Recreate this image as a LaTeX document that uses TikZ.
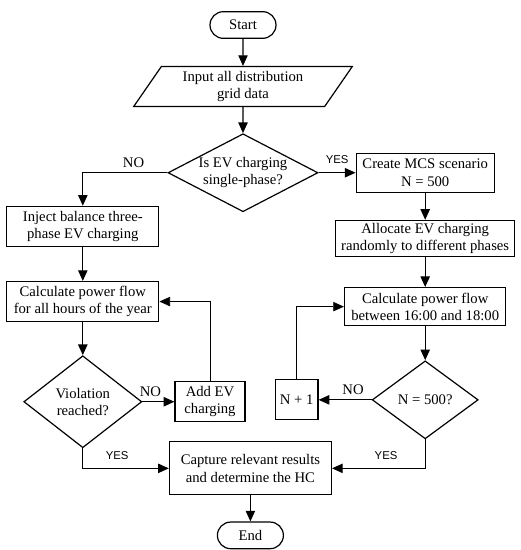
\documentclass[tikz,border=0pt]{standalone}
\usepackage{fontspec}
\setmainfont{Liberation Serif}
\newfontfamily\labelsans{Liberation Sans}
\usepackage{tikz}
\usetikzlibrary{arrows.meta,positioning,shapes.geometric}

\begin{document}
\begin{tikzpicture}[
        font=\fontsize{11}{13}\selectfont,
        line width=0.9pt,
        box/.style={rectangle,draw,align=center,inner xsep=2pt,inner ysep=1pt,
                    minimum height=30pt},
        term/.style={rectangle,draw,rounded corners=10pt,minimum width=49.5pt,
                     minimum height=20pt},
        io/.style={trapezium,trapezium left angle=61,trapezium right angle=119,
                   trapezium stretches=true,draw,align=center,
                   minimum width=164pt,minimum height=30pt},
        decide/.style={diamond,draw,align=center,inner sep=0pt},
        arr/.style={-{Triangle[length=8pt,width=7pt]}},
        back/.style={arr,line width=0.6pt},
        yes/.style={font=\labelsans\fontsize{8.5}{10}\selectfont,above=3pt},
        no/.style={above}
      ]
        \useasboundingbox (0,0) rectangle (390.75pt,-412.5pt);
        \node[term] (start) at (182.25pt,-18.75pt) {Start};
        \node[io,below=20.25pt of start] (input) {Input all distribution\\grid data};
        \node[decide,below=19.5pt of input,aspect=2,minimum width=112.5pt,
              minimum height=58.5pt] (evq) {Is EV charging\\single-phase?};
        \node[box,below left=24.75pt and 6pt of evq.west,minimum width=114pt] (inject)
          {Inject balance three-\\phase EV charging};
        \node[box,below=25.5pt of inject,minimum width=114pt] (calcall)
          {Calculate power flow\\for all hours of the year};
        \node[decide,below=24.75pt of calcall,aspect=1.3,minimum width=88.5pt,
              minimum height=69pt] (viol) {Violation\\reached?};
        \node[box,right=24pt of viol,minimum width=52.5pt] (addev) {Add EV\\charging};
        \node[box,right=64.5pt of viol.south,yshift=-15pt,minimum width=121.5pt,
              minimum height=39.75pt] (capture)
          {Capture relevant results\\and determine the HC};
        \node[term,below=19.5pt of capture] (end) {End};
        \node[box,right=27.75pt of evq,minimum width=103.5pt,minimum height=29.25pt] (mcs)
          {Create MCS scenario\\N = 500};
        \node[box,below=20.25pt of mcs,minimum width=134pt,minimum height=27pt] (alloc)
          {Allocate EV charging\\randomly to different phases};
        \node[box,below=22.5pt of alloc,minimum width=121pt,minimum height=28.5pt] (calcpeak)
          {Calculate power flow\\between 16:00 and 18:00};
        \node[decide,below=25.5pt of calcpeak,aspect=1.36,minimum width=79.5pt,
              minimum height=58.5pt] (nq) {N = 500?};
        \node[box,left=39.75pt of nq,minimum width=32pt] (nplus) {N + 1};
        \draw[arr] (start)--(input);
        \draw[arr] (input)--(evq);
        \draw[arr] (evq.west) -| node[no,pos=0.2] {NO} (inject.north);
        \draw[arr] (evq.east)--node[yes] {YES} (mcs.west);
        \draw[arr] (inject)--(calcall);
        \draw[arr] (calcall)--(viol);
        \draw[arr] (viol.east)--node[no,pos=0.25] {NO} (addev.west);
        \draw[back] (addev.north) |- (calcall.east);
        \draw[arr] (viol.south) |- node[yes,pos=0.7] {YES} (capture.west);
        \draw[arr] (mcs)--(alloc);
        \draw[arr] (alloc)--(calcpeak);
        \draw[arr] (calcpeak)--(nq);
        \draw[arr] (nq.west)--node[no,pos=0.35] {NO} (nplus.east);
        \draw[back] (nplus.north) |- (calcpeak.west);
        \draw[arr] (nq.south) |- node[yes,pos=0.71] {YES} (capture.east);
        \draw[arr] (capture)--(end);
      \end{tikzpicture}
\end{document}
